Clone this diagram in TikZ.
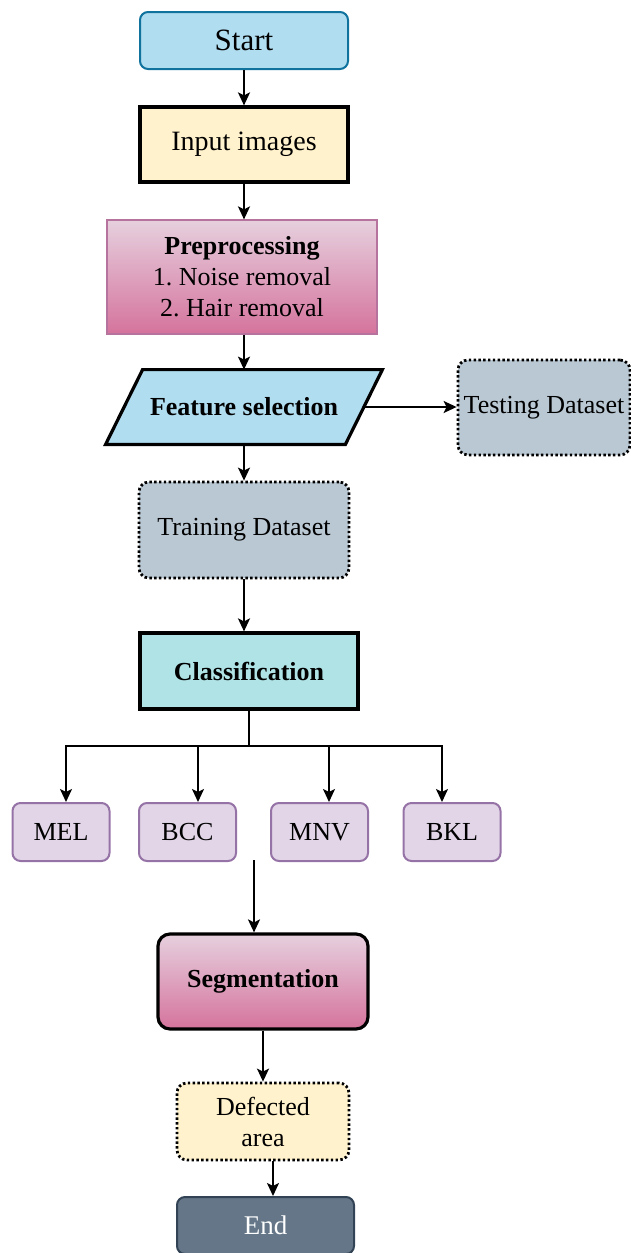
\documentclass[tikz,border=0pt]{standalone}
\usepackage{fontspec}
\setmainfont{Liberation Serif}
\usetikzlibrary{arrows.meta,backgrounds}
\definecolor{bluefill}{HTML}{B1DDF0}
\definecolor{bluedraw}{HTML}{10739E}
\definecolor{yelfill}{HTML}{FFF2CC}
\definecolor{pktop}{HTML}{E6D0DE}
\definecolor{pkbot}{HTML}{D5739D}
\definecolor{pkdraw}{HTML}{B5739D}
\definecolor{grayfill}{HTML}{BAC8D3}
\definecolor{cyanfill}{HTML}{B0E3E6}
\definecolor{purfill}{HTML}{E1D5E7}
\definecolor{purdraw}{HTML}{9673A6}
\definecolor{endfill}{HTML}{647687}
\definecolor{enddraw}{HTML}{314354}
\tikzset{
  box/.style={draw, inner sep=0pt, align=center, font=\fontsize{13}{15.5}\selectfont},
  thickbox/.style={box, line width=1.6pt},
  dotbox/.style={box, rounded corners=5pt, line width=1.4pt, dash pattern=on 1.2pt off 1.2pt},
  classbox/.style={box, rounded corners=4pt, fill=purfill, draw=purdraw, line width=1pt,
    minimum width=48.5pt, minimum height=29pt},
  arr/.style={-{Stealth[length=6.5pt,width=6pt,inset=1.5pt]}, line width=0.9pt},
  conn/.style={line width=0.9pt}
}
\begin{document}
\begin{tikzpicture}[x=0.5pt,y=-0.5pt]
\useasboundingbox (0,0) rectangle (631,1253);

\node[box, rounded corners=4pt, fill=bluefill, draw=bluedraw, line width=1pt,
  minimum width=104pt, minimum height=28.5pt, font=\fontsize{15.5}{18}\selectfont] (start) at (244,40.5) {Start};
\node[thickbox, fill=yelfill, minimum width=104pt, minimum height=37.5pt,
  font=\fontsize{14}{17}\selectfont] (input) at (244,144.5) {Input images};
\node[box, top color=pktop, bottom color=pkbot, draw=pkdraw, line width=0.6pt,
  minimum width=135pt, minimum height=57pt] (pre) at (242,277)
  {\textbf{Preprocessing}\\1.\ Noise removal\\2.\ Hair removal};
\node[box, draw=none, minimum width=119.5pt, minimum height=37pt, font=\fontsize{13}{15.5}\selectfont\bfseries]
  (feat) at (244,407) {Feature selection};
\begin{scope}[on background layer]
\draw[line width=1.6pt, fill=bluefill]
  ([xshift=9.25pt]feat.north west) -- ([xshift=9.25pt]feat.north east) --
  ([xshift=-9.25pt]feat.south east) -- ([xshift=-9.25pt]feat.south west) -- cycle;
\end{scope}
\node[dotbox, fill=grayfill, minimum width=86pt, minimum height=47.5pt] (test) at (544,407.5) {Testing Dataset};
\node[dotbox, fill=grayfill, minimum width=105pt, minimum height=48pt] (train) at (244,530) {Training Dataset};
\node[thickbox, fill=cyanfill, minimum width=109pt, minimum height=38pt,
  font=\fontsize{13}{15.5}\selectfont\bfseries] (cls) at (249,671) {Classification};
\node[classbox] (mel) at (61,832) {MEL};
\node[classbox] (bcc) at (187.5,832) {BCC};
\node[classbox] (mnv) at (319.5,832) {MNV};
\node[classbox] (bkl) at (452,832) {BKL};
\node[thickbox, rounded corners=6pt, top color=pktop, bottom color=pkbot, minimum width=105pt,
  minimum height=47.5pt, font=\fontsize{13}{15.5}\selectfont\bfseries] (seg) at (263,981.5) {Segmentation};
\node[dotbox, fill=yelfill, minimum width=86pt, minimum height=38.5pt] (def) at (263,1121.5) {Defected\\area};
\node[box, rounded corners=4pt, fill=endfill, draw=enddraw, line width=1pt, text=white,
  minimum width=88.5pt, minimum height=28.5pt, font=\fontsize{13.5}{16}\selectfont] (fin) at (265.5,1225.5) {End};

\coordinate (br) at (249,746);
\coordinate (segin) at (254,860);

\draw[arr] (start) -- (input);
\draw[arr] (input.south) -- (input.south |- pre.north);
\draw[arr] (pre.south -| feat.north) -- (feat.north);
\draw[arr] (feat.east) -- (feat.east -| test.west);
\draw[arr] (feat.south) -- (train.north);
\draw[arr] (train.south) -- (train.south |- cls.north);
\draw[conn] (cls.south) -- (br);
\draw[arr] (br) -| ([xshift=2.5pt]mel.north);
\draw[arr] (br) -| ([xshift=5.25pt]bcc.north);
\draw[arr] (br) -| ([xshift=4.75pt]mnv.north);
\draw[arr] (br) -| ([xshift=-5pt]bkl.north);
\draw[arr] (segin) -- ([xshift=-4.5pt]seg.north);
\draw[arr] (seg.south) -- (def.north);
\draw[arr] ([xshift=5pt]def.south) -- ([xshift=5pt]def.south |- fin.north);
\end{tikzpicture}
\end{document}
